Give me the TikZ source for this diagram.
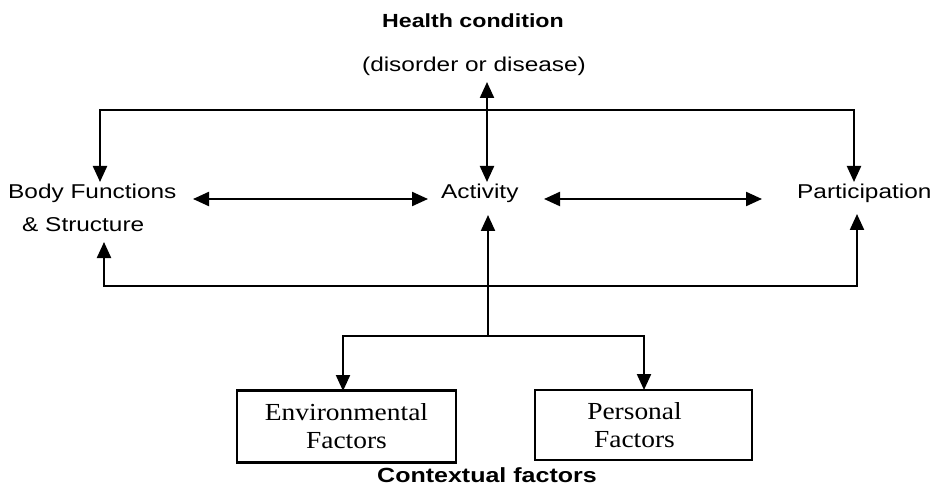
\documentclass[tikz,border=0pt]{standalone}
\usepackage{fontspec}
\usetikzlibrary{arrows.meta}
\newfontfamily\sansf[FakeStretch=1.22]{Liberation Sans}
\newfontfamily\seriff[FakeStretch=1.12]{Liberation Serif}
\begin{document}
\begin{tikzpicture}[x=1pt,y=-1pt,
  >={Triangle[length=16pt,width=14pt]},
  conn/.style={line width=2.2pt},
  lbl/.style={inner sep=0pt,anchor=base west,font=\sansf\fontsize{20}{23}\selectfont},
  ttl/.style={inner sep=0pt,anchor=base,font=\sansf\bfseries\fontsize{19}{22}\selectfont},
  fbox/.style={draw,line width=2.2pt,inner sep=0pt,align=center,
    font=\seriff\fontsize{24.5}{28}\selectfont}]
\useasboundingbox[fill=white] (0,0) rectangle (936,486);
% texts
\node[ttl] (hc) at (473,28) {Health condition};
\node[inner sep=0pt,anchor=base,font=\sansf\fontsize{20}{23}\selectfont] (dis) at (474,72) {(disorder or disease)};
\node[lbl] (bf) at (8,199) {Body Functions};
\node[lbl] (bs) at (22,232) {\& Structure};
\node[lbl] (act) at (441,199) {Activity};
\node[lbl] (par) at (797,199) {Participation};
\node[fbox,minimum width=219pt,minimum height=72pt] (env) at (346.5,426.5) {Environmental\\Factors};
\node[fbox,minimum width=217pt,minimum height=70pt] (per) at (643.5,425) {Personal\hspace*{18pt}\\Factors\hspace*{18pt}};
\node[ttl,font=\sansf\bfseries\fontsize{20.5}{24}\selectfont] (ctx) at (487,482) {Contextual factors};
% coordinates
\coordinate (disB) at (487,82);
\coordinate (actT) at (487,182);
\coordinate (bfT) at (100,182);
\coordinate (tl) at (100,110);
\coordinate (tr) at (854,110);
\coordinate (parT) at (854,182);
\coordinate (bsB) at (104,242);
\coordinate (bl) at (104,286);
\coordinate (br) at (857,286);
\coordinate (parB) at (857,214);
\coordinate (actB) at (488,215);
\coordinate (bj) at (488,336);
\coordinate (jl) at (343,336);
\coordinate (jr) at (644,336);
\coordinate (envT) at (343,391);
\coordinate (perT) at (644,390);
\coordinate (bfE) at (193,199);
\coordinate (actW) at (428,199);
\coordinate (actE) at (544,199);
\coordinate (parW) at (762,199);
% connectors
\draw[conn,<->] (disB) -- (actT);
\draw[conn,<->] (bfT) -- (tl) -- (tr) -- (parT);
\draw[conn,<->] (bsB) -- (bl) -- (br) -- (parB);
\draw[conn,->] (bj) -- (actB);
\draw[conn,<->] (envT) -- (jl) -- (jr) -- (perT);
\draw[conn,<->] (bfE) -- (actW);
\draw[conn,<->] (actE) -- (parW);
\end{tikzpicture}
\end{document}
